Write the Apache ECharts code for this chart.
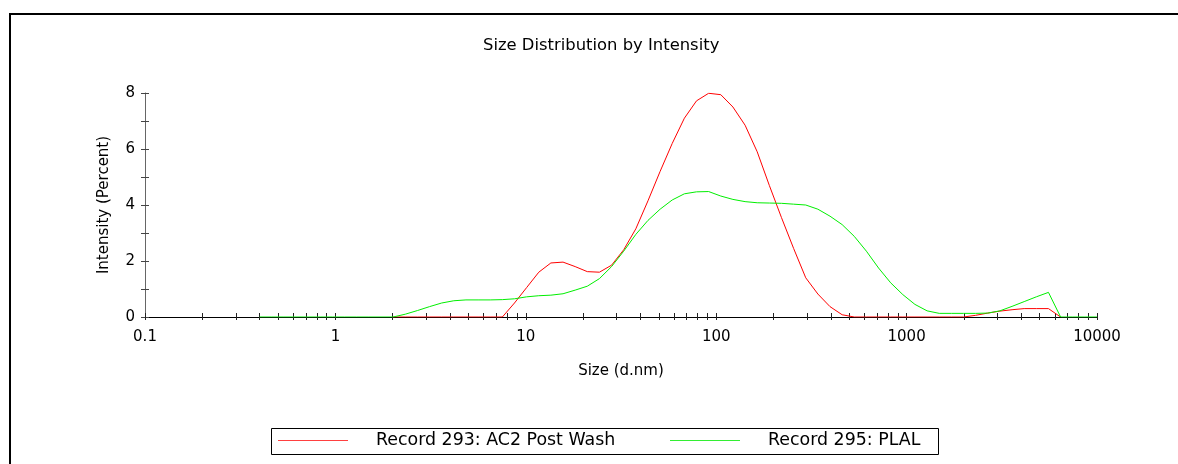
<!DOCTYPE html>
<html>
<head>
<meta charset="utf-8">
<title>Size Distribution by Intensity</title>
<script src="https://cdn.jsdelivr.net/npm/echarts@6/dist/echarts.min.js"></script>
<style>
  html, body { margin: 0; padding: 0; background: #ffffff; }
  #chart { width: 1178px; height: 464px; }
</style>
</head>
<body>
<div id="chart"></div>
<script>
// Size classes (d.nm) of the measurement, 70 log-spaced bins
const sizes = [
  0.4, 0.4632, 0.5365, 0.6213, 0.7195, 0.8332, 0.9649, 1.117, 1.294, 1.499,
  1.736, 2.01, 2.328, 2.696, 3.122, 3.615, 4.187, 4.849, 5.615, 6.503,
  7.531, 8.721, 10.1, 11.7, 13.54, 15.69, 18.17, 21.04, 24.36, 28.21,
  32.67, 37.84, 43.82, 50.75, 58.77, 68.06, 78.82, 91.28, 105.7, 122.4,
  141.8, 164.2, 190.1, 220.2, 255.0, 295.3, 342.0, 396.1, 458.7, 531.2,
  615.1, 712.4, 825.0, 955.4, 1106, 1281, 1484, 1718, 1990, 2305,
  2669, 3091, 3580, 4145, 4801, 5560, 6439, 7456, 8635, 10000
];

// Record 293: AC2 Post Wash — intensity (%)
const record293 = [
  null, null, null, null, null, null, null, null, null, null,
  null, 0, 0, 0, 0, 0, 0, 0, 0, 0,
  0, 0.5, 1.05, 1.6, 1.93, 1.96, 1.8, 1.62, 1.6, 1.85,
  2.4, 3.15, 4.15, 5.2, 6.2, 7.1, 7.72, 7.99, 7.94, 7.5,
  6.85, 5.9, 4.7, 3.55, 2.45, 1.4, 0.82, 0.37, 0.08, 0,
  0, 0, 0, 0, 0, 0, 0, 0, 0, 0.06,
  0.14, 0.21, 0.26, 0.3, 0.3, 0.3, 0, null, null, null
];

// Record 295: PLAL — intensity (%)
const record295 = [
  0, 0, 0, 0, 0, 0, 0, 0, 0, 0,
  0, 0, 0.1, 0.23, 0.37, 0.5, 0.58, 0.61, 0.61, 0.61,
  0.62, 0.65, 0.72, 0.76, 0.78, 0.83, 0.96, 1.1, 1.37, 1.8,
  2.35, 2.95, 3.45, 3.85, 4.18, 4.4, 4.47, 4.48, 4.32, 4.2,
  4.12, 4.08, 4.07, 4.06, 4.03, 4.0, 3.85, 3.6, 3.3, 2.88,
  2.35, 1.75, 1.22, 0.8, 0.45, 0.22, 0.13, 0.13, 0.13, 0.13,
  0.14, 0.22, 0.38, 0.55, 0.72, 0.88, 0, 0, 0, 0
];

const seriesNames = ['Record 293: AC2 Post Wash', 'Record 295: PLAL'];

// Axis ticks and labels
const xLabelValues = [0.1, 1, 10, 100, 1000, 10000];
const xDecades = [0.1, 1, 10, 100, 1000];
const xSteps = [1, 2, 3, 4, 5, 6, 7, 8, 9];
const yTickValues = [0, 1, 2, 3, 4, 5, 6, 7, 8];
const yLabelValues = [0, 2, 4, 6, 8];

const xTickValues = [];
xDecades.forEach(d => xSteps.forEach(s => xTickValues.push(+(d * s).toPrecision(6))));
xTickValues.push(10000);

const FONT = 'DejaVu Sans';
const pair = vals => sizes.map((s, i) => [s, vals[i]]);

const chart = echarts.init(document.getElementById('chart'), null, { renderer: 'canvas' });

const xBase = {
  type: 'log', logBase: 10, min: 0.1, max: 10000, gridIndex: 0, position: 'bottom',
  splitLine: { show: false }, minorSplitLine: { show: false }
};
const yBase = {
  type: 'value', min: 0, max: 8, interval: 2, gridIndex: 0, position: 'left',
  splitLine: { show: false }
};

chart.setOption({
  animation: false,
  backgroundColor: '#ffffff',
  title: {
    text: 'Size Distribution by Intensity',
    left: 478, top: 33,
    textStyle: { fontFamily: FONT, fontSize: 16.4, fontWeight: 'normal', color: '#000' }
  },
  grid: { left: 145, right: 81, top: 93, bottom: 147, containLabel: false },
  xAxis: [
    Object.assign({}, xBase, {
      name: 'Size (d.nm)', nameLocation: 'middle', nameGap: 47,
      nameTextStyle: { fontFamily: FONT, fontSize: 15, color: '#000' },
      axisLine: { show: true, lineStyle: { color: '#000', width: 1 } },
      axisTick: { show: true, inside: false, length: 3, customValues: xTickValues,
                  lineStyle: { color: '#222' } },
      axisLabel: { show: true, margin: 13, customValues: xLabelValues,
                   fontFamily: FONT, fontSize: 15, color: '#000',
                   formatter: v => String(+(+v).toPrecision(6)) }
    }),
    Object.assign({}, xBase, {
      axisLine: { show: false },
      axisTick: { show: true, inside: true, length: 4, customValues: xTickValues,
                  lineStyle: { color: '#222' } },
      axisLabel: { show: false }
    })
  ],
  yAxis: [
    Object.assign({}, yBase, {
      name: 'Intensity (Percent)', nameLocation: 'middle', nameGap: 33, nameRotate: 90,
      nameTextStyle: { fontFamily: FONT, fontSize: 15, color: '#000' },
      axisLine: { show: true, lineStyle: { color: '#666', width: 1 } },
      axisTick: { show: true, inside: false, length: 4, customValues: yTickValues,
                  lineStyle: { color: '#444' } },
      axisLabel: { show: true, margin: 10, customValues: yLabelValues,
                   fontFamily: FONT, fontSize: 15, color: '#000' }
    }),
    Object.assign({}, yBase, {
      axisLine: { show: false },
      axisTick: { show: true, inside: true, length: 4, customValues: yTickValues,
                  lineStyle: { color: '#444' } },
      axisLabel: { show: false }
    })
  ],
  legend: [
    {
      data: [{ name: seriesNames[0], icon: 'rect' }],
      left: 278, top: 432, padding: 0, itemWidth: 70, itemHeight: 1.2, itemGap: 0,
      textStyle: { fontFamily: FONT, fontSize: 17.4, color: '#000', padding: [0, 0, 0, 23] }
    },
    {
      data: [{ name: seriesNames[1], icon: 'rect' }],
      left: 670, top: 432, padding: 0, itemWidth: 70, itemHeight: 1.2, itemGap: 0,
      textStyle: { fontFamily: FONT, fontSize: 17.4, color: '#000', padding: [0, 0, 0, 23] }
    }
  ],
  graphic: [
    {
      type: 'polyline', silent: true,
      shape: { points: [[10, 464], [10, 14], [1178, 14]] },
      style: { stroke: '#000', lineWidth: 2, fill: null }
    },
    {
      type: 'rect', silent: true,
      shape: { x: 271.5, y: 428.5, width: 667, height: 26 },
      style: { stroke: '#000', lineWidth: 1, fill: null }
    }
  ],
  series: [
    {
      name: seriesNames[0], type: 'line', xAxisIndex: 0, yAxisIndex: 0,
      data: pair(record293), showSymbol: false, symbol: 'none',
      lineStyle: { color: '#ff0000', width: 1 }, itemStyle: { color: '#ff4040' }
    },
    {
      name: seriesNames[1], type: 'line', xAxisIndex: 0, yAxisIndex: 0,
      data: pair(record295), showSymbol: false, symbol: 'none',
      lineStyle: { color: '#00ee00', width: 1 }, itemStyle: { color: '#33ee33' }
    }
  ]
});
</script>
</body>
</html>
